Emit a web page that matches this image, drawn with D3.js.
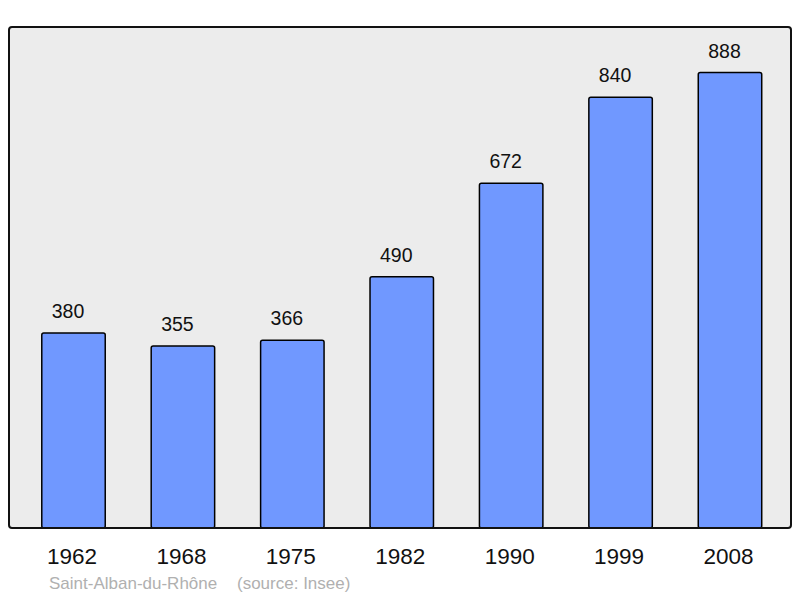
<!DOCTYPE html>
<html>
<head>
<meta charset="utf-8">
<script src="https://cdn.jsdelivr.net/npm/d3@7"></script>
<style>
  body { margin: 0; background: #fff; }
  svg text { font-family: "Liberation Sans", Arial, sans-serif; }
</style>
</head>
<body>
<svg width="800" height="598"></svg>
<script>
var years = ["1962", "1968", "1975", "1982", "1990", "1999", "2008"];
var population = [380, 355, 366, 490, 672, 840, 888];
var caption = ["Saint-Alban-du-Rhône", "(source: Insee)"];

var svg = d3.select("svg");
var frame = { left: 9, top: 27, right: 791, bottom: 528 };

// x scale - bands across the frame
var x = d3.scaleBand()
  .domain(years)
  .range([18.8, 784.7])
  .paddingInner(0.42)
  .paddingOuter(0.21);

// y scale, top of frame is 10% above the max
var y = d3.scaleLinear()
  .domain([0, d3.max(population) * 1.1])
  .range([frame.bottom, frame.top]);

svg.append("rect")
  .attr("x", frame.left)
  .attr("y", frame.top)
  .attr("width", frame.right - frame.left)
  .attr("height", frame.bottom - frame.top)
  .attr("rx", 3)
  .attr("fill", "#ececec");

var data = years.map(function (d, i) { return { year: d, value: population[i] }; });

svg.selectAll(".bar")
  .data(data)
  .enter()
  .append("rect")
  .attr("class", "bar")
  .attr("x", function (d) { return x(d.year); })
  .attr("y", function (d) { return y(d.value); })
  .attr("width", x.bandwidth())
  .attr("height", function (d) { return y(0) - y(d.value); })
  .attr("rx", 2)
  .attr("fill", "#7098ff")
  .attr("stroke", "#000")
  .attr("stroke-width", 1.5);

// frame border on top of bars
svg.append("rect")
  .attr("x", frame.left)
  .attr("y", frame.top)
  .attr("width", frame.right - frame.left)
  .attr("height", frame.bottom - frame.top)
  .attr("rx", 3)
  .attr("fill", "none")
  .attr("stroke", "#111")
  .attr("stroke-width", 2);

// value labels sit a little left of bar centre
svg.selectAll(".val")
  .data(data)
  .enter()
  .append("text")
  .attr("class", "val")
  .attr("x", function (d) { return x(d.year) + x.bandwidth() / 2 - 5.5; })
  .attr("y", function (d) { return y(d.value) - 15; })
  .attr("text-anchor", "middle")
  .attr("font-size", 19.5)
  .attr("fill", "#111")
  .text(function (d) { return d.value; });

var xAxis = d3.axisBottom(x).tickSize(0).tickPadding(0);
var gx = svg.append("g")
  .attr("transform", "translate(0," + frame.bottom + ")")
  .call(xAxis);
gx.select(".domain").remove();
gx.selectAll("text")
  .attr("dy", null)
  .attr("x", -1.5)
  .attr("y", 36)
  .attr("font-size", 22.5)
  .attr("font-family", "Liberation Sans, Arial, sans-serif")
  .attr("fill", "#111");

svg.append("text")
  .attr("x", 49)
  .attr("y", 589)
  .attr("font-size", 17)
  .attr("fill", "#b0b0b0")
  .text(caption[0]);
svg.append("text")
  .attr("x", 237)
  .attr("y", 589)
  .attr("font-size", 17)
  .attr("fill", "#b0b0b0")
  .text(caption[1]);
</script>
</body>
</html>
